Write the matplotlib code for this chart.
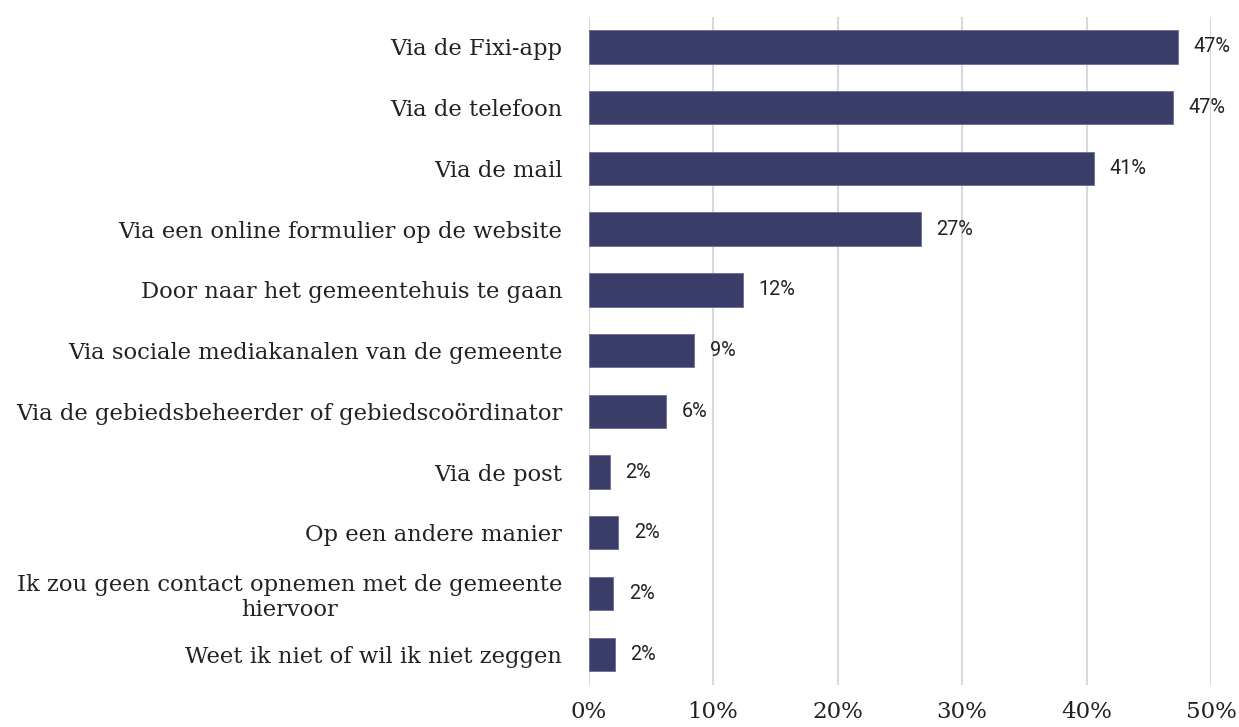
import matplotlib
matplotlib.use("Agg")
import matplotlib.pyplot as plt
from matplotlib.ticker import FuncFormatter

categories = [
    "Via de Fixi-app",
    "Via de telefoon",
    "Via de mail",
    "Via een online formulier op de website",
    "Door naar het gemeentehuis te gaan",
    "Via sociale mediakanalen van de gemeente",
    "Via de gebiedsbeheerder of gebiedscoördinator",
    "Via de post",
    "Op een andere manier",
    "Ik zou geen contact opnemen met de gemeente\nhiervoor",
    "Weet ik niet of wil ik niet zeggen",
]
values = [47.3, 46.9, 40.6, 26.7, 12.4, 8.5, 6.2, 1.7, 2.4, 2.0, 2.1]
value_labels = ["47%", "47%", "41%", "27%", "12%", "9%", "6%", "2%", "2%", "2%", "2%"]
xticks = [0, 10, 20, 30, 40, 50]

bar_color = "#393D67"

fig = plt.figure(figsize=(12.39, 7.27), dpi=100)
ax = fig.add_axes([0.475, 0.0583, 0.5025, 0.9189])

y = list(range(len(categories)))
ax.barh(y, values, height=0.55, color=bar_color, edgecolor="#6A6E94", linewidth=0.6, zorder=3)
ax.set_ylim(len(categories) - 0.5, -0.5)
ax.set_xlim(0, 50)

for yi, v, lab in zip(y, values, value_labels):
    ax.text(v + 1.25, yi, lab, va="center", ha="left", fontsize=14.3,
            family="Roboto", color="#222222")

ax.set_yticks(y)
ax.set_yticklabels(categories, family="DejaVu Serif", fontsize=16.3, color="#222222")
for t in ax.get_yticklabels():
    t.set_multialignment("center")
    t.set_linespacing(1.15)
ax.tick_params(axis="y", length=0, pad=19)

ax.set_xticks(xticks)
ax.xaxis.set_major_formatter(FuncFormatter(lambda v, p: f"{int(v)}%"))
for t in ax.get_xticklabels():
    t.set_family("DejaVu Serif")
    t.set_fontsize(16.5)
    t.set_color("#222222")
ax.tick_params(axis="x", length=0, pad=12)

ax.grid(axis="x", color="#D9D9D9", linewidth=1.5, zorder=0)
ax.set_axisbelow(True)
for s in ax.spines.values():
    s.set_visible(False)

fig.savefig("out.png", dpi=100)
